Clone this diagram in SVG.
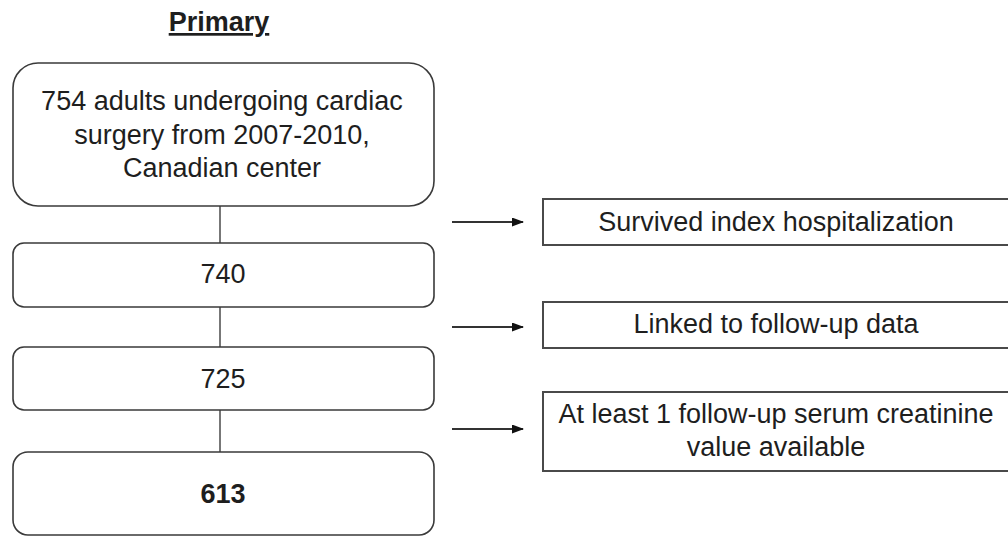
<svg xmlns="http://www.w3.org/2000/svg" width="1008" height="536" viewBox="0 0 1008 536">
<style>
.bx{fill:#fff;stroke:#3a3a3a;stroke-width:1.6}
.rb{fill:#fff;stroke:#4a4a4a;stroke-width:2}
.t{font-family:"Liberation Sans",Arial,sans-serif;font-size:27px;fill:#1e1e1e;text-anchor:middle}
.ln{stroke:#555;stroke-width:1.6;fill:none}
.ar{stroke:#333;stroke-width:2;fill:none}
</style>
<defs>
<marker id="ah" markerWidth="12" markerHeight="9" refX="11" refY="4.5" orient="auto" markerUnits="userSpaceOnUse">
<path d="M0,0 L12,4.5 L0,9 Z" fill="#111"/>
</marker>
</defs>
<rect width="1008" height="536" fill="#fff"/>
<g id="title">
<text x="219" y="31" class="t" style="font-weight:bold;text-decoration:underline">Primary</text>
</g>
<g id="connectors">
<line class="ln" x1="220" y1="206" x2="220" y2="243"/>
<line class="ln" x1="220" y1="307" x2="220" y2="347"/>
<line class="ln" x1="220" y1="410" x2="220" y2="452"/>
<line class="ar" x1="452" y1="222" x2="523" y2="222" marker-end="url(#ah)"/>
<line class="ar" x1="452" y1="327" x2="523" y2="327" marker-end="url(#ah)"/>
<line class="ar" x1="452" y1="429" x2="523" y2="429" marker-end="url(#ah)"/>
</g>
<g id="n754">
<rect class="bx" x="13" y="63" width="421" height="143" rx="25"/>
<text class="t" x="222" y="110">754 adults undergoing cardiac</text>
<text class="t" x="222" y="144">surgery from 2007-2010,</text>
<text class="t" x="222" y="177">Canadian center</text>
</g>
<g id="n740">
<rect class="bx" x="13" y="243" width="421" height="64" rx="11"/>
<text class="t" x="223" y="283">740</text>
</g>
<g id="n725">
<rect class="bx" x="13" y="347" width="421" height="63" rx="11"/>
<text class="t" x="223" y="388">725</text>
</g>
<g id="n613">
<rect class="bx" x="13" y="452" width="421" height="83" rx="15"/>
<text class="t" x="223" y="503" style="font-weight:bold">613</text>
</g>
<g id="e1">
<rect class="rb" x="543" y="199" width="480" height="46"/>
<text class="t" x="776" y="231">Survived index hospitalization</text>
</g>
<g id="e2">
<rect class="rb" x="543" y="302" width="480" height="46"/>
<text class="t" x="776" y="333">Linked to follow-up data</text>
</g>
<g id="e3">
<rect class="rb" x="543" y="392" width="480" height="79"/>
<text class="t" x="776" y="423">At least 1 follow-up serum creatinine</text>
<text class="t" x="776" y="456">value available</text>
</g>
</svg>
